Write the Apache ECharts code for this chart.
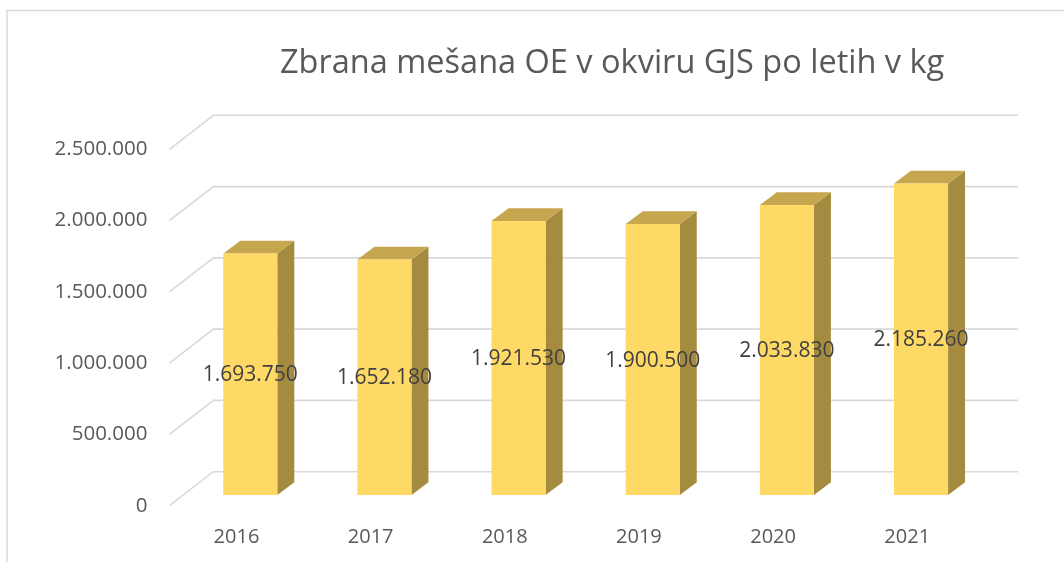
<!DOCTYPE html>
<html>
<head>
<meta charset="utf-8">
<style>
  html, body { margin: 0; padding: 0; background: #ffffff; }
  #chart { width: 1064px; height: 562px; }
</style>
<script src="https://cdn.jsdelivr.net/npm/echarts@6/dist/echarts.min.js"></script>
</head>
<body>
<div id="chart"></div>
<script>
// Collected mixed municipal waste (kg) per year
const years = ['2016', '2017', '2018', '2019', '2020', '2021'];
const amounts = [1693750, 1652180, 1921530, 1900500, 2033830, 2185260];
const axisTicks = [0, 500000, 1000000, 1500000, 2000000, 2500000];
const titleText = 'Zbrana mešana OE v okviru GJS po letih v kg';

const FONT = '"Open Sans", "Noto Sans", sans-serif';

// Thousands separated by dots
function fmt(v) {
  return String(Math.round(v)).replace(/\B(?=(\d{3})+(?!\d))/g, '.');
}

// Perspective of the 3D floor: front edge -> back wall
const FLOOR_DX = 44, FLOOR_DY = -34;
// Bar front face sits part way into the floor; bar depth after that
const BAR_DX = 13.8, BAR_DY = -10.7;
const DEPTH_DX = 17, DEPTH_DY = -12.7;
const BAR_RATIO = 0.403;

const chart = echarts.init(document.getElementById('chart'), null, { renderer: 'canvas' });

const option = {
  backgroundColor: '#ffffff',
  animation: false,
  textStyle: { fontFamily: FONT },
  title: {
    text: titleText,
    left: 275,
    top: 42,
    textStyle: { fontFamily: FONT, fontSize: 32.5, fontWeight: 'normal', color: '#595959' }
  },
  graphic: [{
    type: 'polyline',
    shape: { points: [[7, 562], [7, 10.5], [1064, 10.5]] },
    style: { stroke: '#d9d9d9', lineWidth: 1.5, fill: null },
    silent: true
  }],
  grid: { left: 169.4, right: 89.7, top: 149.3, bottom: 56.3, containLabel: false },
  xAxis: {
    type: 'category',
    data: years,
    axisLine: { show: false },
    axisTick: { show: false },
    splitLine: { show: false },
    axisLabel: { fontFamily: FONT, fontSize: 20, color: '#595959', margin: 22 }
  },
  yAxis: {
    type: 'value',
    min: 0,
    max: 2500000,
    interval: 500000,
    axisLine: { show: false },
    axisTick: { show: false },
    splitLine: { show: false },
    axisLabel: {
      fontFamily: FONT, fontSize: 20.5, color: '#595959', margin: 22,
      formatter: function (v) { return fmt(v); }
    }
  },
  series: [
    {
      // Floor edges and back-wall gridlines
      type: 'custom',
      silent: true,
      z: 1,
      data: axisTicks.map(function (v) { return [0, v]; }),
      renderItem: function (params, api) {
        const cs = params.coordSys;
        const y = api.coord([0, api.value(1)])[1];
        const x0 = cs.x, x1 = cs.x + cs.width;
        return {
          type: 'polyline',
          shape: { points: [[x0, y], [x0 + FLOOR_DX, y + FLOOR_DY], [x1 + FLOOR_DX, y + FLOOR_DY]] },
          style: { stroke: '#d9d9d9', lineWidth: 1.6, fill: null }
        };
      }
    },
    {
      // 3D columns with value labels
      type: 'custom',
      z: 2,
      data: amounts.map(function (v, i) { return [i, v]; }),
      renderItem: function (params, api) {
        const i = api.value(0), v = api.value(1);
        const base = api.coord([i, 0]);
        const top = api.coord([i, v]);
        const w = api.size([1, 0])[0] * BAR_RATIO;
        const cx = base[0] + BAR_DX;
        const xl = cx - w / 2, xr = cx + w / 2;
        const yb = base[1] + BAR_DY, yt = top[1] + BAR_DY;
        return {
          type: 'group',
          children: [
            {
              type: 'polygon',
              shape: { points: [[xr, yt], [xr, yb], [xr + DEPTH_DX, yb + DEPTH_DY], [xr + DEPTH_DX, yt + DEPTH_DY]] },
              style: { fill: '#a58b40' }
            },
            {
              type: 'polygon',
              shape: { points: [[xl, yt], [xr, yt], [xr + DEPTH_DX, yt + DEPTH_DY], [xl + DEPTH_DX, yt + DEPTH_DY]] },
              style: { fill: '#c6a74f' }
            },
            {
              type: 'rect',
              shape: { x: xl, y: yt, width: w, height: yb - yt },
              style: { fill: '#fed966' }
            },
            {
              type: 'text',
              x: cx,
              y: (yt + yb) / 2 + 1,
              style: {
                text: fmt(v),
                fontFamily: FONT, fontSize: 21, fill: '#404040',
                align: 'center', verticalAlign: 'middle'
              },
              z2: 10
            }
          ]
        };
      }
    }
  ]
};

chart.setOption(option);
</script>
</body>
</html>
